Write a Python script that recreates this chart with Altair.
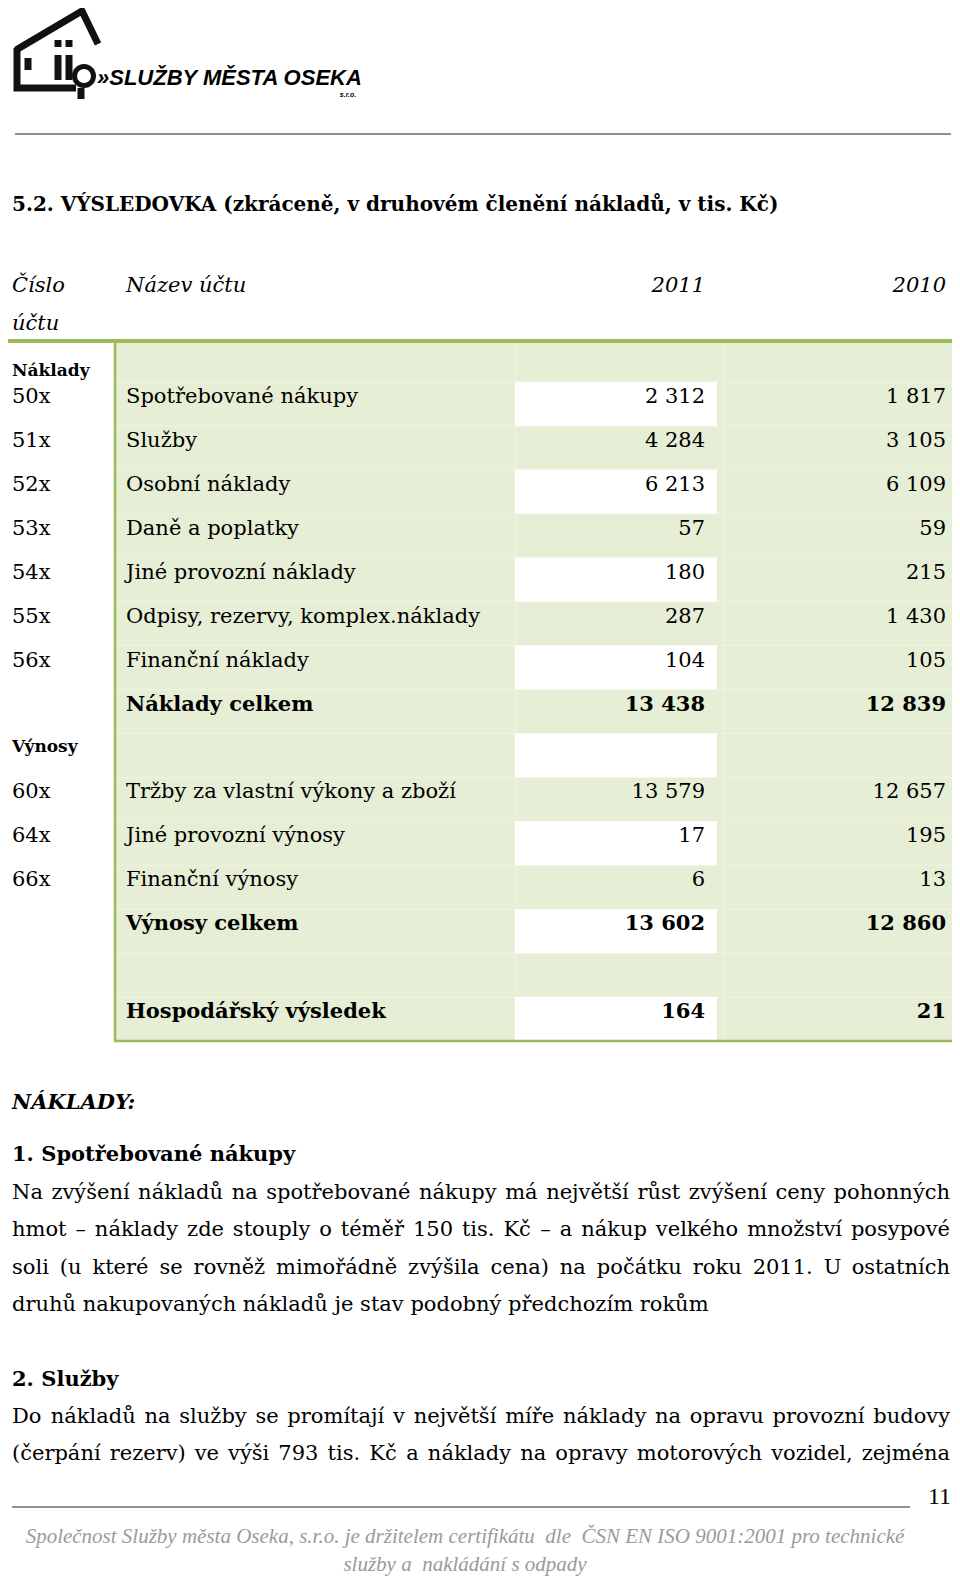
import unicodedata
import altair as alt
import pandas as pd

# ---------------- data ----------------
codes = ["50x", "51x", "52x", "53x", "54x", "55x", "56x", "", "", "60x", "64x", "66x", "", "", ""]
names = ["Spotřebované nákupy", "Služby", "Osobní náklady", "Daně a poplatky",
         "Jiné provozní náklady", "Odpisy, rezervy, komplex.náklady", "Finanční náklady",
         "Náklady celkem", "", "Tržby za vlastní výkony a zboží", "Jiné provozní výnosy",
         "Finanční výnosy", "Výnosy celkem", "", "Hospodářský výsledek"]
v2011 = [2312, 4284, 6213, 57, 180, 287, 104, 13438, None, 13579, 17, 6, 13602, None, 164]
v2010 = [1817, 3105, 6109, 59, 215, 1430, 105, 12839, None, 12657, 195, 13, 12860, None, 21]
bold_rows = [False, False, False, False, False, False, False, True, False,
             False, False, False, True, False, True]
section_labels = ["Náklady", "Výnosy"]
header_labels = ["Číslo", "účtu", "Název účtu", "2011", "2010"]

title = "5.2. VÝSLEDOVKA (zkráceně, v druhovém členění nákladů, v tis. Kč)"
heading_main = "NÁKLADY:"
heading_1 = "1. Spotřebované nákupy"
para_1 = [
    "Na zvýšení nákladů na spotřebované nákupy má největší růst zvýšení ceny pohonných",
    "hmot – náklady zde stouply o téměř 150 tis. Kč – a nákup velkého množství posypové",
    "soli (u které se rovněž mimořádně zvýšila cena) na počátku roku 2011. U ostatních",
    "druhů nakupovaných nákladů je stav podobný předchozím rokům",
]
heading_2 = "2. Služby"
para_2 = [
    "Do nákladů na služby se promítají v největší míře náklady na opravu provozní budovy",
    "(čerpání rezerv) ve výši 793 tis. Kč a náklady na opravy motorových vozidel, zejména",
]
footer_lines = [
    "Společnost Služby města Oseka, s.r.o. je držitelem certifikátu\u00a0 dle\u00a0 ČSN EN ISO 9001:2001 pro technické",
    "služby a\u00a0 nakládání s odpady",
]
page_number = "11"
logo_text = "»SLUŽBY MĚSTA OSEKA"

# ---------------- layout ----------------
SERIF = "DejaVu Serif"
GREEN = "#9bbb59"
FILL = "#e6eed5"
ROW0 = 382.0
ROW_H = 43.93
BODY = 21
CW, CH = 944, 1570          # chart size; page coords 8..952 x 8..1578

X = alt.Scale(domain=[8, 8 + CW], nice=False, zero=False)
Y = alt.Scale(domain=[8, 8 + CH], nice=False, zero=False, reverse=True)

# approximate advance widths of DejaVu Serif (em units) for justification
_W = {" ": .318, ".": .318, ",": .318, ":": .337, "(": .390, ")": .390, "–": .5,
      "a": .596, "b": .640, "c": .559, "d": .640, "e": .592, "f": .370, "g": .640,
      "h": .644, "i": .320, "j": .310, "k": .606, "l": .320, "m": .948, "n": .644,
      "o": .602, "p": .640, "q": .640, "r": .478, "s": .513, "t": .402, "u": .644,
      "v": .565, "w": .856, "x": .564, "y": .565, "z": .523,
      "D": .830, "K": .775, "N": .872, "U": .812, "A": .722, "S": .684}


def text_width(s, size):
    tot = 0.0
    for ch in s:
        base = unicodedata.normalize("NFD", ch)[0]
        tot += _W.get(base, .636 if base.isdigit() else .62)
    return tot * size


def fmt(v):
    return "" if v is None else f"{v:,}".replace(",", " ")


def text_layer(rows, size, weight="normal", style="normal", align="left",
               color="#000000", font=SERIF):
    df = pd.DataFrame(rows, columns=["x", "y", "t"])
    return alt.Chart(df).mark_text(
        align=align, baseline="middle", fontSize=size, fontWeight=weight,
        fontStyle=style, color=color, font=font
    ).encode(
        x=alt.X("x:Q", scale=X, axis=None),
        y=alt.Y("y:Q", scale=Y, axis=None),
        text=alt.Text("t:N"),
    )


def rect_layer(rows, color):
    df = pd.DataFrame(rows, columns=["x", "x2", "y", "y2"])
    return alt.Chart(df).mark_rect(color=color).encode(
        x=alt.X("x:Q", scale=X, axis=None), x2="x2:Q",
        y=alt.Y("y:Q", scale=Y, axis=None), y2="y2:Q",
    )


def rule_layer(rows, color, width, opacity=1.0):
    df = pd.DataFrame(rows, columns=["x", "x2", "y", "y2"])
    return alt.Chart(df).mark_rule(color=color, strokeWidth=width, opacity=opacity).encode(
        x=alt.X("x:Q", scale=X, axis=None), x2="x2:Q",
        y=alt.Y("y:Q", scale=Y, axis=None), y2="y2:Q",
    )


def justify(line, x0, x1, y, size):
    words = line.split(" ")
    widths = [text_width(w, size) for w in words]
    gap = (x1 - x0 - sum(widths)) / (len(words) - 1)
    out, x = [], x0
    for w, wd in zip(words, widths):
        out.append((x, y, w))
        x += wd + gap
    return out


n = len(names)
row_top = [ROW0 + ROW_H * k for k in range(n)]
row_mid = [t + 15 for t in row_top]
TABLE_BOTTOM = ROW0 + ROW_H * n
RIGHT = 952

layers = []

# table background
layers.append(rect_layer([(114, RIGHT, 341, TABLE_BOTTOM)], FILL))
layers.append(rect_layer([(515, 717, row_top[k], row_top[k] + ROW_H)
                          for k in range(n) if k % 2 == 0], "#ffffff"))
layers.append(rule_layer([(116, RIGHT, row_top[k], row_top[k]) for k in range(n)] +
                         [(x, x, 343, TABLE_BOTTOM) for x in (515, 725)],
                         "#ffffff", 1, 0.35))
# borders
layers.append(rule_layer([(8, RIGHT, 341, 341)], GREEN, 4))
layers.append(rule_layer([(115, 115, 341, TABLE_BOTTOM)], GREEN, 2.5))
layers.append(rule_layer([(114, RIGHT, TABLE_BOTTOM, TABLE_BOTTOM)], GREEN, 2.5))

# header / footer rules
layers.append(rule_layer([(15, 951, 134, 134)], "#222222", 1))
layers.append(rule_layer([(12, 910, 1507, 1507)], "#222222", 1.2))

# logo
logo_df = pd.DataFrame(
    [(0, 0, 16, 50), (0, 1, 82, 11), (0, 2, 98, 44),
     (1, 0, 17, 48), (1, 1, 17, 88), (1, 2, 76, 88),
     (2, 0, 28, 58), (2, 1, 28, 70),
     (3, 0, 58, 55), (3, 1, 58, 80),
     (4, 0, 69, 55), (4, 1, 69, 80),
     (5, 0, 58, 40), (5, 1, 58, 47),
     (6, 0, 69, 40), (6, 1, 69, 47),
     (7, 0, 81, 88), (7, 1, 81, 99)],
    columns=["seg", "o", "x", "y"])
layers.append(alt.Chart(logo_df).mark_line(
    color="#111111", strokeWidth=7, strokeCap="butt", strokeJoin="miter").encode(
    x=alt.X("x:Q", scale=X, axis=None), y=alt.Y("y:Q", scale=Y, axis=None),
    detail="seg:N", order="o:Q"))
layers.append(alt.Chart(pd.DataFrame({"x": [84], "y": [76]})).mark_point(
    shape="circle", filled=False, size=360, strokeWidth=5, color="#111111", opacity=1).encode(
    x=alt.X("x:Q", scale=X, axis=None), y=alt.Y("y:Q", scale=Y, axis=None)))
layers.append(text_layer([(97, 78, logo_text)], 22, "bold", "italic",
                         font="Liberation Sans"))
layers.append(text_layer([(348, 95, "s.r.o.")], 7, "bold", "italic",
                         font="Liberation Sans", align="center"))

# title
layers.append(text_layer([(12, 205, title)], 20, "bold"))

# table header
layers.append(text_layer([(12, 286, header_labels[0]), (12, 324, header_labels[1]),
                          (126, 286, header_labels[2])], BODY, style="italic"))
layers.append(text_layer([(705, 286, header_labels[3]), (946, 286, header_labels[4])],
                         BODY, style="italic", align="right"))
layers.append(text_layer([(12, 371, section_labels[0]), (12, 747, section_labels[1])],
                         17, "bold"))

# table body
layers.append(text_layer([(12, row_mid[k], codes[k]) for k in range(n) if codes[k]], BODY))
layers.append(text_layer([(126, row_mid[k], names[k]) for k in range(n)
                          if names[k] and not bold_rows[k]], BODY))
layers.append(text_layer([(126, row_mid[k], names[k]) for k in range(n)
                          if names[k] and bold_rows[k]], BODY, "bold"))
layers.append(text_layer([(705, row_mid[k], fmt(v2011[k])) for k in range(n)
                          if v2011[k] is not None and not bold_rows[k]] +
                         [(946, row_mid[k], fmt(v2010[k])) for k in range(n)
                          if v2010[k] is not None and not bold_rows[k]], BODY, align="right"))
layers.append(text_layer([(705, row_mid[k], fmt(v2011[k])) for k in range(n)
                          if v2011[k] is not None and bold_rows[k]] +
                         [(946, row_mid[k], fmt(v2010[k])) for k in range(n)
                          if v2010[k] is not None and bold_rows[k]], BODY, "bold", align="right"))

# text section
LINE = 37.4
JR = 950
layers.append(text_layer([(12, 1103, heading_main)], BODY, "bold", "italic"))
layers.append(text_layer([(12, 1155, heading_1), (12, 1380, heading_2)], BODY, "bold"))
body_rows = []
for i, s in enumerate(para_1):
    y = 1193 + LINE * i
    body_rows += justify(s, 12, JR, y, BODY) if i < len(para_1) - 1 else [(12, y, s)]
for i, s in enumerate(para_2):
    body_rows += justify(s, 12, JR, 1417 + LINE * i, BODY)
layers.append(text_layer(body_rows, BODY))

# footer
layers.append(text_layer([(465, 1537, footer_lines[0]), (465, 1565, footer_lines[1])],
                         21, style="italic", color="#9a9a9a", font="Liberation Serif",
                         align="center"))
layers.append(text_layer([(951, 1497, page_number)], 24, font="Liberation Serif", align="right"))

chart = alt.layer(*layers).properties(
    width=CW, height=CH, padding=0, background="#ffffff",
    autosize=alt.AutoSizeParams(type="none"),
).configure_view(stroke=None)

chart.save("out.html", embed_options={"renderer": "svg", "actions": False})
